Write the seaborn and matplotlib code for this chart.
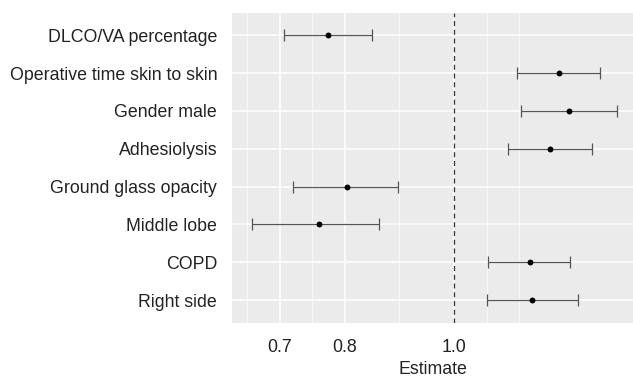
import numpy as np
import pandas as pd
import seaborn as sns
import matplotlib.pyplot as plt
from matplotlib.ticker import FixedLocator, NullFormatter

# values (log-scaled odds ratios)
labels = ["DLCO/VA percentage", "Operative time skin to skin", "Gender male",
          "Adhesiolysis", "Ground glass opacity", "Middle lobe", "COPD", "Right side"]
estimate = [0.773, 1.239, 1.265, 1.217, 0.803, 0.759, 1.168, 1.173]
lower = [0.707, 1.137, 1.147, 1.116, 0.719, 0.661, 1.073, 1.070]
upper = [0.846, 1.348, 1.397, 1.326, 0.891, 0.858, 1.269, 1.288]

x_breaks = [0.7, 0.8, 1.0]
x_break_labels = ["0.7", "0.8", "1.0"]
x_minor = [0.6547, 0.7483, 0.8944, 1.069, 1.143]

df = pd.DataFrame({"term": labels, "estimate": estimate, "lower": lower, "upper": upper})
df["pos"] = np.arange(len(df))

sns.set_theme(style="darkgrid")
plt.rcParams["font.family"] = ["Liberation Sans", "DejaVu Sans"]

fig = plt.figure(figsize=(6.33, 3.8), dpi=100)
ax = fig.add_axes([0.3665, 0.1508, 0.6335, 0.8158])
ax.set_facecolor("#EBEBEB")

ax.errorbar(df["estimate"], df["pos"],
            xerr=[df["estimate"] - df["lower"], df["upper"] - df["estimate"]],
            fmt="none", ecolor="#555555", elinewidth=0.9, capsize=4, capthick=0.9, zorder=3)
sns.scatterplot(data=df, x="estimate", y="pos", color="black", s=18,
                edgecolor="black", linewidth=0, ax=ax, zorder=4)
ax.axvline(1.0, color="#333333", linestyle=(0, (4, 3)), linewidth=0.9, zorder=2)

ax.set_xscale("log")
ax.set_xlim(0.635, 1.4425)
ax.xaxis.set_major_locator(FixedLocator(x_breaks))
ax.set_xticklabels(x_break_labels)
ax.xaxis.set_minor_locator(FixedLocator(x_minor))
ax.xaxis.set_minor_formatter(NullFormatter())

ax.set_yticks(df["pos"])
ax.set_yticklabels(df["term"])
ax.set_ylim(len(df) - 0.4, -0.6)

ax.grid(which="major", color="white", linewidth=1.1)
ax.grid(which="minor", axis="x", color="white", linewidth=0.5)
ax.set_axisbelow(True)
for s in ax.spines.values():
    s.set_visible(False)

ax.tick_params(axis="both", which="major", length=4.2, width=0.8, color="#333333",
               labelsize=12.8, labelcolor="#222222")
ax.tick_params(axis="y", which="major", pad=6.5)
ax.tick_params(axis="x", which="major", pad=7.5)
ax.tick_params(axis="x", which="minor", length=0)
ax.set_xlabel("Estimate", fontsize=12.8, color="#222222", labelpad=3.5)
ax.set_ylabel("")

fig.savefig("out.png", dpi=100, facecolor="white")
